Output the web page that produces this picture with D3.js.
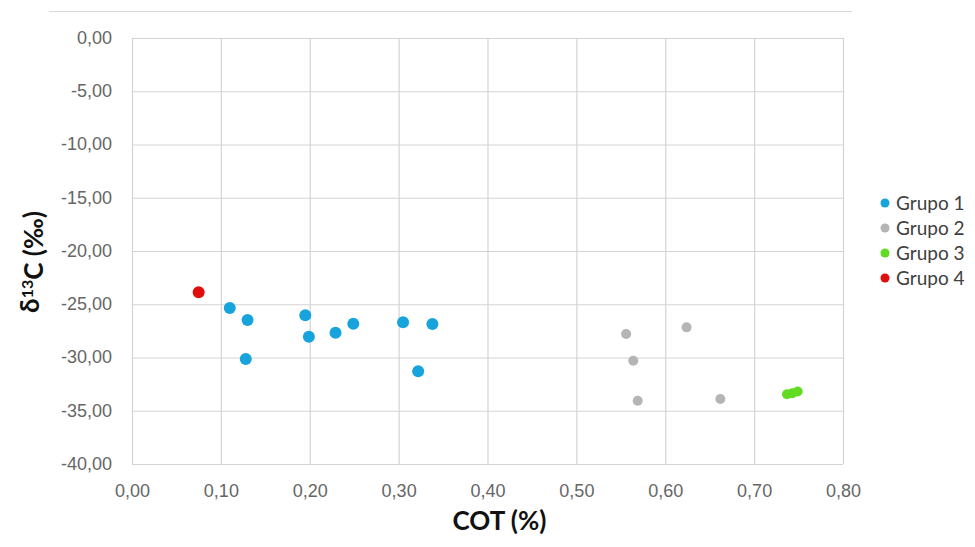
<!DOCTYPE html>
<html>
<head>
<meta charset="utf-8">
<script src="https://cdn.jsdelivr.net/npm/d3@7"></script>
<style>
  html, body { margin: 0; padding: 0; background: #fff; }
  svg { display: block; font-family: Lato, "Open Sans", sans-serif; }
</style>
</head>
<body>
<script>
// values
var grupo1X = [0.110, 0.130, 0.128, 0.195, 0.199, 0.229, 0.249, 0.305, 0.338, 0.322];
var grupo1Y = [-25.35, -26.48, -30.14, -26.04, -28.05, -27.67, -26.83, -26.70, -26.86, -31.30];
var grupo2X = [0.556, 0.624, 0.564, 0.569, 0.662];
var grupo2Y = [-27.79, -27.17, -30.30, -34.06, -33.90];
var grupo3X = [0.737, 0.743, 0.749];
var grupo3Y = [-33.45, -33.35, -33.20];
var grupo4X = [0.075];
var grupo4Y = [-23.88];

var groupNames = ['Grupo 1', 'Grupo 2', 'Grupo 3', 'Grupo 4'];
var groupColors = ['#17a3dc', '#b5b5b5', '#62dc22', '#e20d0d'];
var xTicks = [0, 0.1, 0.2, 0.3, 0.4, 0.5, 0.6, 0.7, 0.8];
var yTicks = [0, -5, -10, -15, -20, -25, -30, -35, -40];

var width = 975, height = 547;
var plot = { left: 132, right: 843, top: 38, bottom: 464 };

var locale = d3.formatLocale({ decimal: ',', thousands: '.', grouping: [3], currency: ['', ''], minus: '-' });
var fmt = locale.format('.2f');

var x = d3.scaleLinear().domain([0, 0.8]).range([plot.left, plot.right]);
var y = d3.scaleLinear().domain([-40, 0]).range([plot.bottom, plot.top]);

var svg = d3.select('body').append('svg')
  .attr('width', width)
  .attr('height', height);

// top border of the chart area
svg.append('line')
  .attr('x1', 49).attr('x2', 852)
  .attr('y1', 11.5).attr('y2', 11.5)
  .attr('stroke', '#d9d9d9');

var xAxis = svg.append('g')
  .attr('transform', 'translate(0,' + plot.bottom + ')')
  .call(d3.axisBottom(x).tickValues(xTicks).tickFormat(fmt)
    .tickSize(-(plot.bottom - plot.top)));

var yAxis = svg.append('g')
  .attr('transform', 'translate(' + plot.left + ',0)')
  .call(d3.axisLeft(y).tickValues(yTicks).tickFormat(fmt)
    .tickSize(-(plot.right - plot.left)));

[xAxis, yAxis].forEach(function(ax) {
  ax.select('.domain').remove();
  ax.selectAll('.tick line').attr('stroke', '#d3d3d3').attr('stroke-width', 1.2);
  ax.selectAll('.tick text')
    .attr('fill', '#666')
    .style('font-size', '18px');
});

xAxis.selectAll('.tick text').attr('y', 33).attr('dy', null);
yAxis.selectAll('.tick text').attr('x', -20).attr('dy', '0.3em');

var groups = [
  { xs: grupo1X, ys: grupo1Y, r: 6 },
  { xs: grupo2X, ys: grupo2Y, r: 5 },
  { xs: grupo3X, ys: grupo3Y, r: 5 },
  { xs: grupo4X, ys: grupo4Y, r: 6 }
];

groups.forEach(function(g, i) {
  svg.append('g').selectAll('circle')
    .data(g.xs.map(function(v, j) { return [v, g.ys[j]]; }))
    .enter()
    .append('circle')
    .attr('cx', function(d) { return x(d[0]); })
    .attr('cy', function(d) { return y(d[1]); })
    .attr('r', g.r)
    .attr('fill', groupColors[i]);
});

// axis titles
svg.append('text')
  .attr('x', (plot.left + plot.right) / 2 + 12)
  .attr('y', 530)
  .attr('text-anchor', 'middle')
  .style('font-size', '26px')
  .style('font-weight', 'bold')
  .attr('fill', '#111')
  .text('COT (%)');

var yTitle = svg.append('text')
  .attr('transform', 'translate(39,262) rotate(-90)')
  .attr('text-anchor', 'middle')
  .style('font-size', '26px')
  .style('font-weight', 'bold')
  .attr('fill', '#111');
yTitle.append('tspan').text('δ');
yTitle.append('tspan').attr('dy', '-0.4em').style('font-size', '16px').text('13');
yTitle.append('tspan').attr('dy', '0.4em').text('C (‰)');

// legend
var legend = svg.append('g').selectAll('g')
  .data(groupNames)
  .enter()
  .append('g')
  .attr('transform', function(d, i) { return 'translate(885,' + (203 + i * 25) + ')'; });

legend.append('circle')
  .attr('r', 4.5)
  .attr('fill', function(d, i) { return groupColors[i]; });

legend.append('text')
  .attr('x', 11)
  .attr('dy', '0.35em')
  .style('font-size', '19px')
  .attr('fill', '#404040')
  .text(function(d) { return d; });
</script>
</body>
</html>
